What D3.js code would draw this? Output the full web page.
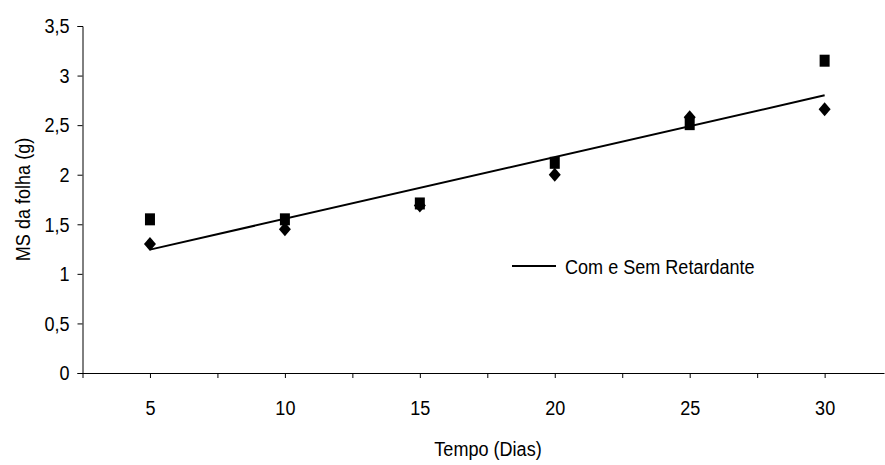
<!DOCTYPE html>
<html>
<head>
<meta charset="utf-8">
<script src="https://cdn.jsdelivr.net/npm/d3@7"></script>
<style>
  body { margin: 0; background: #fff; }
  text { font-family: "Liberation Sans", Arial, sans-serif; fill: #000; }
</style>
</head>
<body>
<svg id="chart"></svg>
<script>
const width = 885;
const height = 465;

// Data
const days = [5, 10, 15, 20, 25, 30];
const comRetardante = [1.55, 1.55, 1.71, 2.12, 2.51, 3.15]; // squares
const semRetardante = [1.30, 1.45, 1.69, 2.00, 2.58, 2.66]; // diamonds
const yTicks = [0, 0.5, 1, 1.5, 2, 2.5, 3, 3.5];
const xTicks = [2.5, 5, 7.5, 10, 12.5, 15, 17.5, 20, 22.5, 25, 27.5, 30];
const legendLabel = "Com e Sem Retardante";

// the original text is narrow and tall, so squeeze it horizontally
const fontSize = 21;
const squeeze = 0.86;

const svg = d3.select("#chart")
  .attr("width", width)
  .attr("height", height);

const x = d3.scaleLinear().domain([2.5, 32.2]).range([82.5, 884]);
const y = d3.scaleLinear().domain([0, 3.5]).range([373, 26]);

const fmt = d => String(d).replace(".", ",");

// Y axis
const yAxis = svg.append("g")
  .attr("transform", `translate(${x(2.5)},0)`)
  .call(d3.axisLeft(y).tickValues(yTicks).tickFormat(fmt).tickSize(5).tickPadding(8));
yAxis.select(".domain").attr("stroke", "#000");
yAxis.selectAll(".tick text")
  .attr("font-size", fontSize).attr("font-family", null)
  .attr("x", -13 / squeeze)
  .attr("transform", `scale(${squeeze},1)`);

// X axis: ticks every 2.5, labels only on the days
const xAxis = svg.append("g")
  .attr("transform", `translate(0,${y(0)})`)
  .call(d3.axisBottom(x).tickValues(xTicks)
    .tickFormat(d => days.includes(d) ? d : "")
    .tickSize(5).tickPadding(22).tickSizeOuter(0));
xAxis.select(".domain").attr("stroke", "#000");
xAxis.selectAll(".tick text")
  .attr("font-size", fontSize).attr("font-family", null)
  .attr("transform", `scale(${squeeze},1)`);

// Axis titles
svg.append("text")
  .attr("transform", `translate(488,456) scale(${squeeze},1)`)
  .attr("text-anchor", "middle")
  .attr("font-size", fontSize)
  .text("Tempo (Dias)");

svg.append("text")
  .attr("transform", `translate(30,${(y(0) + y(3.5)) / 2}) rotate(-90) scale(${squeeze},1)`)
  .attr("text-anchor", "middle")
  .attr("font-size", fontSize)
  .text("MS da folha (g)");

// Linear trend on both series together
const allX = days.concat(days);
const allY = comRetardante.concat(semRetardante);
const mx = d3.mean(allX), my = d3.mean(allY);
const slope = d3.sum(allX, (v, i) => (v - mx) * (allY[i] - my)) / d3.sum(allX, v => (v - mx) ** 2);
const intercept = my - slope * mx;

svg.append("line")
  .attr("x1", x(days[0]))
  .attr("y1", y(intercept + slope * days[0]))
  .attr("x2", x(days[days.length - 1]))
  .attr("y2", y(intercept + slope * days[days.length - 1]))
  .attr("stroke", "#000")
  .attr("stroke-width", 2);

// Diamonds
svg.append("g")
  .selectAll("path")
  .data(days.map((d, i) => [d, semRetardante[i]]))
  .join("path")
  .attr("transform", d => `translate(${x(d[0])},${y(d[1])})`)
  .attr("d", "M0,-7L6,0L0,7L-6,0Z")
  .attr("fill", "#000");

// Squares
svg.append("g")
  .selectAll("rect")
  .data(days.map((d, i) => [d, comRetardante[i]]))
  .join("rect")
  .attr("x", d => x(d[0]) - 5)
  .attr("y", d => y(d[1]) - 6)
  .attr("width", 10)
  .attr("height", 12)
  .attr("fill", "#000");

// Legend
const legend = svg.append("g").attr("transform", "translate(512,266)");
legend.append("line")
  .attr("x1", 0).attr("x2", 44)
  .attr("stroke", "#000").attr("stroke-width", 2);
legend.append("text")
  .attr("transform", `translate(53,8) scale(${squeeze},1)`)
  .attr("font-size", fontSize)
  .text(legendLabel);
</script>
</body>
</html>
